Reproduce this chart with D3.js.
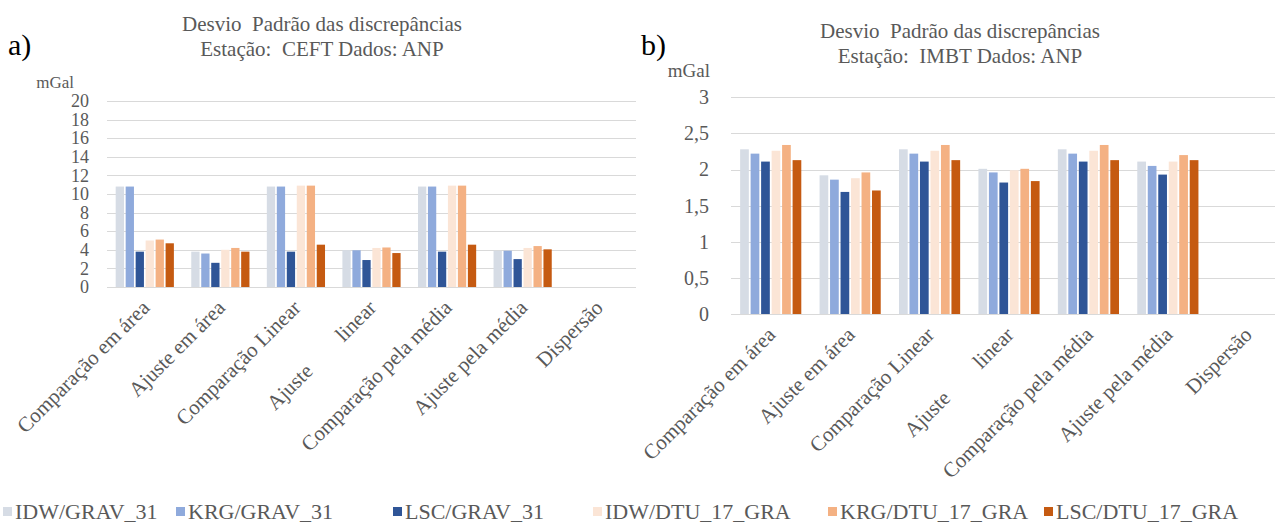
<!DOCTYPE html>
<html>
<head>
<meta charset="utf-8">
<script src="https://cdn.jsdelivr.net/npm/d3@7"></script>
<style>
  body { margin: 0; background: #fff; }
  svg { display: block; }
  svg text { font-family: "Liberation Serif", "Times New Roman", Tinos, "DejaVu Serif", serif; }
</style>
</head>
<body>
<svg id="chart" width="1275" height="525"></svg>
<script>
// categories and series (same for both panels)
const categories = ['Comparação em área', 'Ajuste em área', 'Comparação Linear', 'Ajuste        linear',
  'Comparação pela média', 'Ajuste pela média', 'Dispersão'];
const seriesNames = ['IDW/GRAV_31', 'KRG/GRAV_31', 'LSC/GRAV_31', 'IDW/DTU_17_GRA', 'KRG/DTU_17_GRA', 'LSC/DTU_17_GRA'];
const seriesColors = ['#d6dce5', '#8faadc', '#2f5597', '#fbe5d6', '#f4b183', '#c55a11'];

// panel a) CEFT (mGal), Dispersão has no value
const idwGravA = [10.8, 3.8, 10.8, 3.95, 10.8, 3.9, null];
const krgGravA = [10.8, 3.6, 10.8, 3.95, 10.8, 3.9, null];
const lscGravA = [3.8, 2.6, 3.8, 2.9, 3.8, 3.0, null];
const idwDtuA = [5.0, 4.0, 10.9, 4.2, 10.9, 4.2, null];
const krgDtuA = [5.1, 4.2, 10.9, 4.25, 10.9, 4.4, null];
const lscDtuA = [4.7, 3.8, 4.55, 3.65, 4.55, 4.05, null];
const yTicksA = [0, 2, 4, 6, 8, 10, 12, 14, 16, 18, 20];

// panel b) IMBT (mGal)
const idwGravB = [2.28, 1.92, 2.28, 2.01, 2.28, 2.11, null];
const krgGravB = [2.22, 1.86, 2.22, 1.96, 2.22, 2.05, null];
const lscGravB = [2.11, 1.69, 2.11, 1.82, 2.11, 1.93, null];
const idwDtuB = [2.26, 1.88, 2.26, 1.99, 2.26, 2.11, null];
const krgDtuB = [2.34, 1.96, 2.34, 2.01, 2.34, 2.20, null];
const lscDtuB = [2.13, 1.71, 2.13, 1.84, 2.13, 2.13, null];
const yTicksB = [0, 0.5, 1, 1.5, 2, 2.5, 3];

const svg = d3.select('#chart');
const commaFormat = v => String(v).replace('.', ',');

function drawPanel(opt) {
  const g = svg.append('g');

  const x0 = d3.scaleBand()
    .domain(categories)
    .range([opt.left, opt.right])
    .paddingInner(0.23)
    .paddingOuter(0.115);
  const x1 = d3.scaleBand()
    .domain(seriesNames)
    .range([0, x0.bandwidth()])
    .paddingInner(0.17);
  const y = d3.scaleLinear()
    .domain([0, opt.yMax])
    .range([opt.bottom, opt.top]);

  // gridlines
  g.append('g')
    .selectAll('line')
    .data(opt.ticks)
    .join('line')
    .attr('x1', opt.left)
    .attr('x2', opt.right)
    .attr('y1', d => Math.round(y(d)) + 0.5)
    .attr('y2', d => Math.round(y(d)) + 0.5)
    .attr('stroke', '#d9d9d9')
    .attr('stroke-width', 1.2);

  // y labels
  const yAxis = d3.axisLeft(y).tickValues(opt.ticks).tickSize(0).tickPadding(opt.tickPad).tickFormat(commaFormat);
  const ya = g.append('g')
    .attr('transform', 'translate(' + opt.left + ',0)')
    .call(yAxis);
  ya.attr('font-family', null);
  ya.select('.domain').remove();
  ya.selectAll('text')
    .attr('font-size', opt.tickSize)
    .attr('fill', '#595959');

  // bars
  const rows = categories.map((c, i) => ({
    cat: c,
    vals: seriesNames.map((s, j) => ({ s: s, v: opt.series[j][i], color: seriesColors[j] }))
  }));
  g.append('g')
    .selectAll('g')
    .data(rows)
    .join('g')
    .attr('transform', d => 'translate(' + x0(d.cat) + ',0)')
    .selectAll('rect')
    .data(d => d.vals.filter(v => v.v !== null))
    .join('rect')
    .attr('x', d => x1(d.s))
    .attr('width', x1.bandwidth())
    .attr('y', d => y(d.v))
    .attr('height', d => opt.bottom - y(d.v))
    .attr('fill', d => d.color);

  // category labels, rotated
  g.append('g')
    .selectAll('text')
    .data(categories)
    .join('text')
    .attr('transform', d => 'translate(' + (x0(d) + x0.bandwidth() / 2 + 6) + ',' + (opt.bottom + 22) + ') rotate(-45)')
    .attr('text-anchor', 'end')
    .attr('font-size', 21)
    .attr('fill', '#595959')
    .style('white-space', 'pre')
    .text(d => d);

  // unit
  g.append('text')
    .attr('x', opt.unitX)
    .attr('y', opt.unitY)
    .attr('text-anchor', 'end')
    .attr('font-size', opt.unitSize)
    .attr('fill', '#595959')
    .text('mGal');

  // title
  const title = g.append('text')
    .attr('text-anchor', 'middle')
    .attr('font-size', 21)
    .attr('fill', '#595959');
  title.append('tspan').attr('x', opt.titleX).attr('y', opt.titleY).style('white-space', 'pre').text('Desvio  Padrão das discrepâncias');
  title.append('tspan').attr('x', opt.titleX).attr('y', opt.titleY + 25).style('white-space', 'pre').text(opt.subtitle);

  // panel letter
  g.append('text')
    .attr('x', opt.letterX)
    .attr('y', 55)
    .attr('font-size', 30)
    .attr('fill', '#000')
    .text(opt.letter);
}

drawPanel({
  letter: 'a)', letterX: 8,
  subtitle: 'Estação:  CEFT Dados: ANP',
  titleX: 322, titleY: 31,
  left: 107, right: 636, top: 101, bottom: 287,
  yMax: 20, ticks: yTicksA, tickPad: 18, tickSize: 18,
  unitX: 74, unitY: 88, unitSize: 17,
  series: [idwGravA, krgGravA, lscGravA, idwDtuA, krgDtuA, lscDtuA]
});

drawPanel({
  letter: 'b)', letterX: 641,
  subtitle: 'Estação:  IMBT Dados: ANP',
  titleX: 960, titleY: 38,
  left: 731, right: 1287, top: 97.3, bottom: 314,
  yMax: 3, ticks: yTicksB, tickPad: 22, tickSize: 20,
  unitX: 710, unitY: 77, unitSize: 19,
  series: [idwGravB, krgGravB, lscGravB, idwDtuB, krgDtuB, lscDtuB]
});

// legend
const legendX = [12, 185, 402, 602, 837, 1053];
const legend = svg.append('g');
const item = legend.selectAll('g')
  .data(seriesNames)
  .join('g')
  .attr('transform', (d, i) => 'translate(' + legendX[i] + ',512)');
item.append('rect')
  .attr('x', -9)
  .attr('y', -5)
  .attr('width', 9)
  .attr('height', 9)
  .attr('fill', (d, i) => seriesColors[i]);
item.append('text')
  .attr('x', 3)
  .attr('y', 7)
  .attr('font-size', 22)
  .attr('fill', '#595959')
  .text(d => d);
</script>
</body>
</html>
